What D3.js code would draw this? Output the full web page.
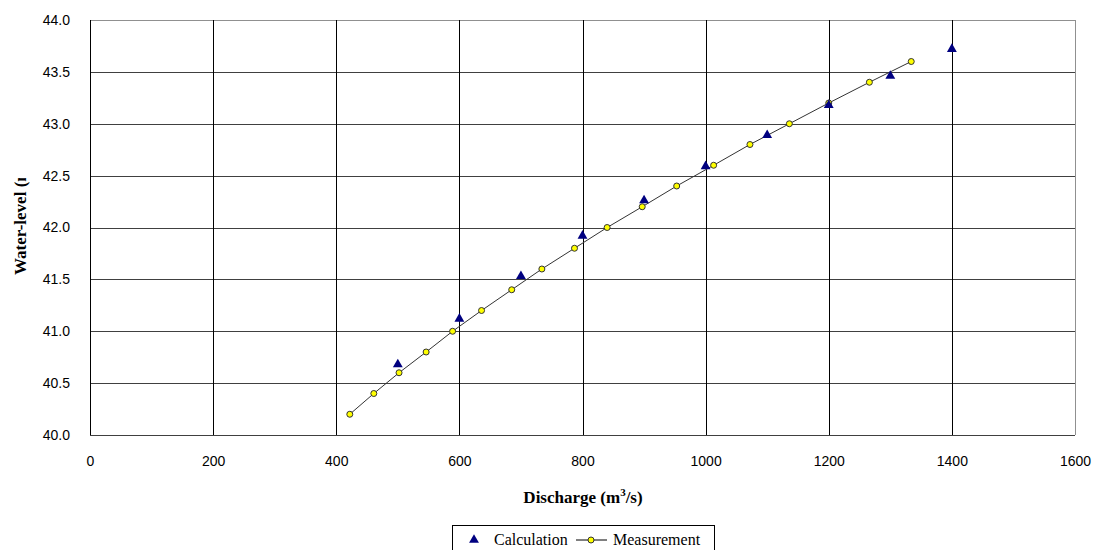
<!DOCTYPE html>
<html lang="en">
<head>
    <meta charset="UTF-8">
    <title>Water-level vs Discharge</title>
    <script src="https://cdnjs.cloudflare.com/ajax/libs/d3/7.8.5/d3.min.js"></script>
    <style>
        body { margin: 0; background: white; }
        svg { display: block; }
        .tick text { font-family: 'Liberation Sans', Arial, sans-serif; font-size: 14px; fill: #000; }
        .title { font-family: 'Liberation Serif', 'Times New Roman', serif; font-weight: bold; font-size: 17px; }
        .legend text { font-family: 'Liberation Serif', 'Times New Roman', serif; font-size: 16px; }
    </style>
</head>
<body>
<svg id="chart" width="1100" height="550"></svg>
<script>
    "use strict";

    // Calculation (triangles)
    const calcQ = [500, 600, 700, 800, 900, 1000, 1100, 1200, 1300, 1400];
    const calcH = [40.68, 41.12, 41.53, 41.92, 42.26, 42.59, 42.89, 43.18, 43.46, 43.72];

    // Measurement (line + yellow markers)
    const measQ = [422, 461, 502, 546, 589, 636, 685, 734, 787, 840, 897, 953, 1013, 1072, 1136, 1200, 1266, 1334];
    const measH = [40.2, 40.4, 40.6, 40.8, 41.0, 41.2, 41.4, 41.6, 41.8, 42.0, 42.2, 42.4, 42.6, 42.8, 43.0, 43.2, 43.4, 43.6];

    const xTicks = [0, 200, 400, 600, 800, 1000, 1200, 1400, 1600];
    const yTicks = [40.0, 40.5, 41.0, 41.5, 42.0, 42.5, 43.0, 43.5, 44.0];

    !function () {
        const plotLeft = 90, plotRight = 1075, plotTop = 20, plotBottom = 435;

        const svg = d3.select("#chart");
        const x = d3.scaleLinear().domain([0, 1600]).range([plotLeft, plotRight]);
        const y = d3.scaleLinear().domain([40, 44]).range([plotBottom, plotTop]);

        // grid
        svg.append("g").selectAll("line").data(yTicks).join("line")
            .attr("x1", plotLeft).attr("x2", plotRight)
            .attr("y1", d => Math.round(y(d)) + 0.5).attr("y2", d => Math.round(y(d)) + 0.5)
            .attr("stroke", d => d === 44 ? "#909090" : "#404040");

        svg.append("g").selectAll("line").data(xTicks).join("line")
            .attr("y1", plotTop).attr("y2", plotBottom)
            .attr("x1", d => Math.round(x(d)) + 0.5).attr("x2", d => Math.round(x(d)) + 0.5)
            .attr("stroke", d => d === 1600 ? "#909090" : "#000");

        // axes (labels only)
        svg.append("g")
            .attr("transform", `translate(0,${plotBottom})`)
            .call(d3.axisBottom(x).tickValues(xTicks).tickSize(0).tickPadding(21).tickFormat(d3.format("d")))
            .call(g => g.select(".domain").remove());

        svg.append("g")
            .attr("transform", `translate(${plotLeft},0)`)
            .call(d3.axisLeft(y).tickValues(yTicks).tickSize(0).tickPadding(20).tickFormat(d3.format(".1f")))
            .call(g => g.select(".domain").remove());

        // measurement line
        const meas = measQ.map((q, i) => ({ q: q, h: measH[i] }));
        svg.append("path")
            .datum(meas)
            .attr("fill", "none")
            .attr("stroke", "#333")
            .attr("stroke-width", 1)
            .attr("d", d3.line().x(d => x(d.q)).y(d => y(d.h)));

        svg.append("g").selectAll("circle").data(meas).join("circle")
            .attr("cx", d => x(d.q)).attr("cy", d => y(d.h))
            .attr("r", 3)
            .attr("fill", "#ffff00")
            .attr("stroke", "#333")
            .attr("stroke-width", 1);

        // calculation triangles
        const tri = d3.symbol().type(d3.symbolTriangle).size(42);
        svg.append("g").selectAll("path").data(calcQ).join("path")
            .attr("transform", (d, i) => `translate(${x(d)},${y(calcH[i])})`)
            .attr("d", tri)
            .attr("fill", "#000080");

        // axis titles
        svg.append("text")
            .attr("class", "title")
            .attr("x", 583).attr("y", 503)
            .attr("text-anchor", "middle")
            .html('Discharge (m<tspan dy="-7" font-size="11">3</tspan><tspan dy="7">/s)</tspan>');

        // y title is cut off at the top in the original chart
        svg.append("clipPath").attr("id", "ylabClip")
            .append("rect").attr("x", 0).attr("y", 178).attr("width", 60).attr("height", 200);

        svg.append("g")
            .attr("clip-path", "url(#ylabClip)")
            .append("text")
            .attr("class", "title")
            .attr("transform", "translate(26,275) rotate(-90)")
            .text("Water-level (m)");

        // legend
        const lg = svg.append("g").attr("class", "legend");
        lg.append("rect")
            .attr("x", 452.5).attr("y", 525.5).attr("width", 262).attr("height", 40)
            .attr("fill", "white").attr("stroke", "#000");

        lg.append("path")
            .attr("transform", "translate(474,540)")
            .attr("d", tri)
            .attr("fill", "#000080");
        lg.append("text").attr("x", 494).attr("y", 545).text("Calculation");

        lg.append("line").attr("x1", 576).attr("x2", 607).attr("y1", 540).attr("y2", 540)
            .attr("stroke", "#000");
        lg.append("circle").attr("cx", 591).attr("cy", 540).attr("r", 3)
            .attr("fill", "#ffff00").attr("stroke", "#333");
        lg.append("text").attr("x", 613).attr("y", 545).text("Measurement");
    }();
</script>
</body>
</html>
